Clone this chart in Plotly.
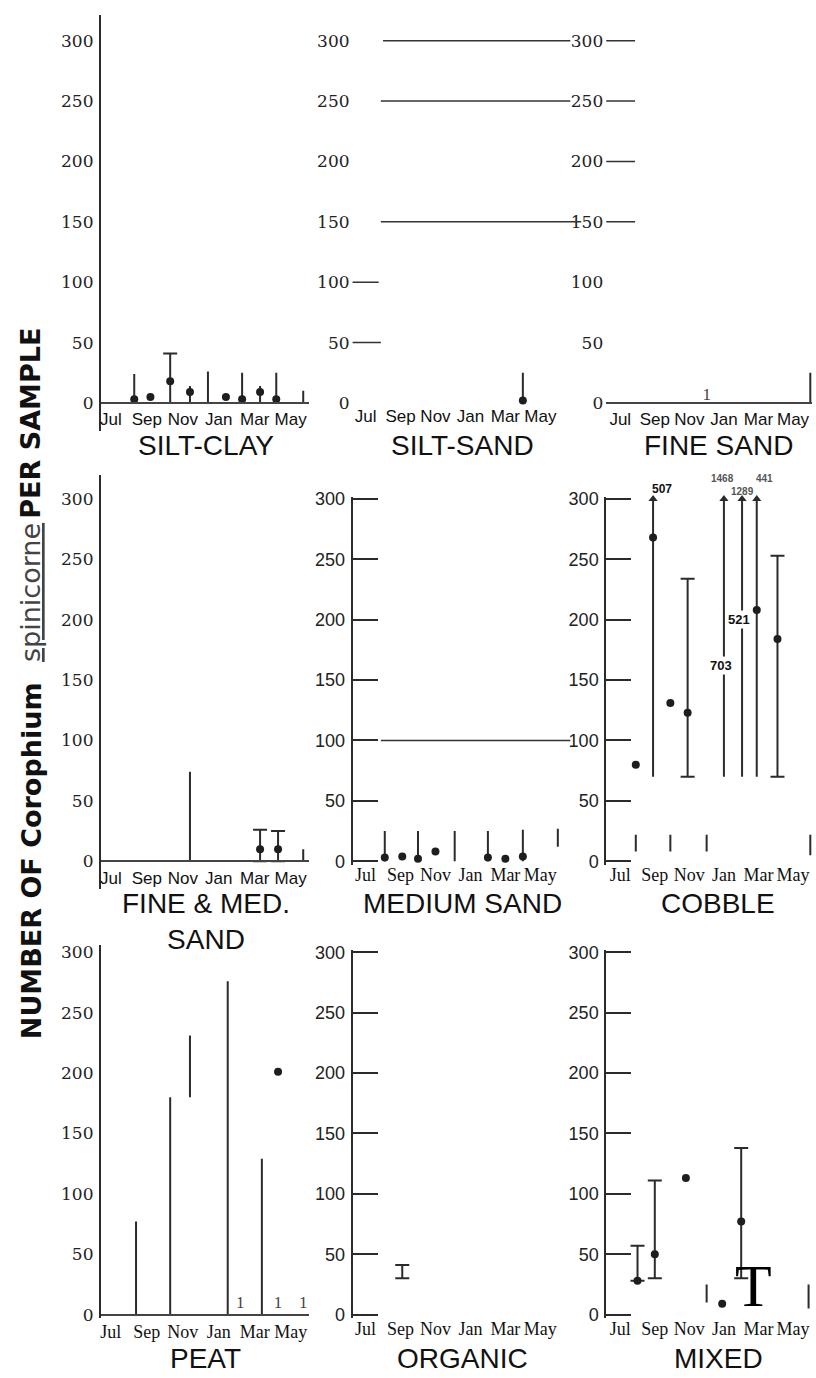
import plotly.graph_objects as go

# ---------------- data ----------------
# month index: 0 = Jul, 1 = Aug, ... 11 = Jun
month_tickvals = [0, 2, 4, 6, 8, 10]
month_ticktext = ["Jul", "Sep", "Nov", "Jan", "Mar", "May"]
count_tickvals = [0, 50, 100, 150, 200, 250, 300]
count_ticktext = ["0", "50", "100", "150", "200", "250", "300"]

panel_titles = ["SILT-CLAY", "SILT-SAND", "FINE SAND",
                "FINE & MED.<br>SAND", "MEDIUM SAND", "COBBLE",
                "PEAT", "ORGANIC", "MIXED"]

# SILT-CLAY
silt_clay_mean_month = [1.3, 2.2, 3.3, 4.4, 6.4, 7.3, 8.3, 9.2]
silt_clay_mean = [3, 5, 18, 9, 5, 3, 9, 3]
silt_clay_range_month = [1.3, 3.3, 4.4, 5.4, 7.3, 8.3, 9.2, 10.7]
silt_clay_range_low = [0, 0, 0, 0, 0, 0, 0, 0]
silt_clay_range_high = [24, 41, 14, 26, 25, 14, 25, 10]
silt_clay_range_capped = [False, True, False, False, False, False, False, False]

# SILT-SAND
silt_sand_mean_month = [9.0]
silt_sand_mean = [2]
silt_sand_range_month = [9.0]
silt_sand_range_low = [0]
silt_sand_range_high = [25]
silt_sand_range_capped = [False]

# FINE SAND
fine_sand_mean_month = []
fine_sand_mean = []
fine_sand_range_month = [11.0]
fine_sand_range_low = [0]
fine_sand_range_high = [25]
fine_sand_range_capped = [False]
fine_sand_small_month = [5.0]
fine_sand_small_value = [6]

# FINE & MED. SAND
fine_med_mean_month = [8.3, 9.3]
fine_med_mean = [10, 10]
fine_med_range_month = [4.4, 8.3, 9.3, 10.7]
fine_med_range_low = [0, 0, 0, 0]
fine_med_range_high = [74, 26, 25, 10]
fine_med_range_capped = [False, True, True, False]

# MEDIUM SAND
medium_mean_month = [1.1, 2.1, 3.0, 4.0, 7.0, 8.0, 9.0]
medium_mean = [3, 4, 2, 8, 3, 2, 4]
medium_range_month = [1.1, 3.0, 5.1, 7.0, 9.0, 11.0]
medium_range_low = [0, 0, 0, 0, 0, 12]
medium_range_high = [25, 25, 25, 25, 26, 27]
medium_range_capped = [False, False, False, False, False, False]

# COBBLE
cobble_mean_month = [0.9, 1.9, 2.9, 3.9, 7.9, 9.1]
cobble_mean = [80, 268, 131, 123, 208, 184]
cobble_range_month = [0.9, 1.9, 2.9, 3.9, 5.0, 6.0, 7.05, 7.9, 9.1, 11.0]
cobble_range_low = [8, 70, 8, 70, 8, 70, 70, 70, 70, 5]
cobble_range_high = [22, 507, 22, 234, 22, 1468, 1289, 441, 253, 22]
cobble_range_capped = [False, False, False, True, False, False, False, False, True, False]
cobble_offscale_mean_month = [6.0, 7.05]
cobble_offscale_mean = [703, 521]

# PEAT
peat_mean_month = [9.3]
peat_mean = [201]
peat_range_month = [1.4, 3.3, 4.4, 6.5, 8.4]
peat_range_low = [0, 0, 180, 0, 0]
peat_range_high = [77, 180, 231, 276, 129]
peat_range_capped = [False, False, False, False, False]
peat_small_month = [7.2, 9.3, 10.7]
peat_small_value = [9, 9, 9]

# ORGANIC
organic_mean_month = []
organic_mean = []
organic_range_month = [2.1]
organic_range_low = [30]
organic_range_high = [41]
organic_range_capped = [True]

# MIXED
mixed_mean_month = [1.0, 2.0, 3.8, 5.9, 7.0]
mixed_mean = [28, 50, 113, 9, 77]
mixed_range_month = [1.0, 2.0, 5.0, 7.0, 10.9]
mixed_range_low = [28, 30, 10, 30, 5]
mixed_range_high = [57, 111, 25, 138, 25]
mixed_range_capped = [True, True, False, True, False]

panels = [
    dict(mx=silt_clay_mean_month, my=silt_clay_mean, rx=silt_clay_range_month,
         rlo=silt_clay_range_low, rhi=silt_clay_range_high, rcap=silt_clay_range_capped),
    dict(mx=silt_sand_mean_month, my=silt_sand_mean, rx=silt_sand_range_month,
         rlo=silt_sand_range_low, rhi=silt_sand_range_high, rcap=silt_sand_range_capped),
    dict(mx=fine_sand_mean_month, my=fine_sand_mean, rx=fine_sand_range_month,
         rlo=fine_sand_range_low, rhi=fine_sand_range_high, rcap=fine_sand_range_capped,
         sx=fine_sand_small_month, sy=fine_sand_small_value),
    dict(mx=fine_med_mean_month, my=fine_med_mean, rx=fine_med_range_month,
         rlo=fine_med_range_low, rhi=fine_med_range_high, rcap=fine_med_range_capped),
    dict(mx=medium_mean_month, my=medium_mean, rx=medium_range_month,
         rlo=medium_range_low, rhi=medium_range_high, rcap=medium_range_capped),
    dict(mx=cobble_mean_month, my=cobble_mean, rx=cobble_range_month,
         rlo=cobble_range_low, rhi=cobble_range_high, rcap=cobble_range_capped),
    dict(mx=peat_mean_month, my=peat_mean, rx=peat_range_month,
         rlo=peat_range_low, rhi=peat_range_high, rcap=peat_range_capped,
         sx=peat_small_month, sy=peat_small_value),
    dict(mx=organic_mean_month, my=organic_mean, rx=organic_range_month,
         rlo=organic_range_low, rhi=organic_range_high, rcap=organic_range_capped),
    dict(mx=mixed_mean_month, my=mixed_mean, rx=mixed_range_month,
         rlo=mixed_range_low, rhi=mixed_range_high, rcap=mixed_range_capped),
]

# ---------------- layout / style ----------------
W, H = 816, 1378
SCALE_TOP = 300           # values above this are drawn as arrows
PX_PER_UNIT = 1.22
ROW_ZERO_PX = [400, 863, 1321]
# column: (axis px, right px, px of month 0, px per month)
COLS = [(100, 308, 110, 18.0), (352, 570, 365, 17.5), (606, 812, 620, 17.3)]

SERIF_Y = dict(family="DejaVu Serif", size=17, color="#222")
SANS_Y = dict(family="Liberation Sans, Arial", size=18, color="#222")
SANS_X = dict(family="Liberation Sans, Arial", size=17, color="#111")
SERIF_X = dict(family="Liberation Serif, Times New Roman", size=18, color="#111")

panel_style = [
    dict(ylo=-23, yhi=321, yline=True, yticks="", base=True, xf=SANS_X, yf=SERIF_Y),
    dict(ylo=-3, yhi=321, yline=False, yticks="", base=False, xf=SANS_X, yf=SERIF_Y),
    dict(ylo=-3, yhi=321, yline=False, yticks="", base=True, xf=SANS_X, yf=SERIF_Y),
    dict(ylo=-23, yhi=320, yline=True, yticks="", base=True, xf=SANS_X, yf=SERIF_Y),
    dict(ylo=-3, yhi=302, yline=True, yticks="inside", base=False, xf=SERIF_X, yf=SANS_Y),
    dict(ylo=-3, yhi=302, yline=True, yticks="inside", base=False, xf=SERIF_X, yf=SANS_Y),
    dict(ylo=-3, yhi=306, yline=True, yticks="", base=True, xf=SERIF_X, yf=SERIF_Y),
    dict(ylo=-3, yhi=302, yline=True, yticks="inside", base=False, xf=SERIF_X, yf=SANS_Y),
    dict(ylo=-3, yhi=302, yline=True, yticks="inside", base=False, xf=SERIF_X, yf=SANS_Y),
]

# stray ruled lines seen on the scanned page: (panel, y value, x0 frac, x1 frac)
page_rules = [
    (1, 300, 0.14, 1.0), (1, 250, 0.13, 1.0), (1, 150, 0.13, 1.05),
    (1, 100, 0.0, 0.12), (1, 50, 0.0, 0.13),
    (2, 300, 0.0, 0.14), (2, 250, 0.0, 0.14), (2, 200, 0.0, 0.14), (2, 150, 0.0, 0.14),
    (4, 100, 0.13, 1.0),
]

title_y_px = [442, 905, 1365]
title_x_px = [205, 462, 718]
tick_standoff_by_row = [1, 1, 1]

LINE = "#2b2b2b"
fig = go.Figure()
layout = dict(width=W, height=H, margin=dict(l=0, r=0, t=0, b=0),
              paper_bgcolor="white", plot_bgcolor="white", showlegend=False)
annotations = []
shapes = []


def value_to_paper_y(row, v):
    return 1 - (ROW_ZERO_PX[row] - v * PX_PER_UNIT) / H


for k, (p, st) in enumerate(zip(panels, panel_style)):
    r, c = divmod(k, 3)
    ax_px, right_px, m0_px, ppm = COLS[c]
    zero_px = ROW_ZERO_PX[r]
    sfx = "" if k == 0 else str(k + 1)
    xa, ya = "x" + sfx, "y" + sfx

    xr = [(ax_px - m0_px) / ppm, (right_px - m0_px) / ppm]
    bottom_px = zero_px - st["ylo"] * PX_PER_UNIT
    top_px = zero_px - st["yhi"] * PX_PER_UNIT
    layout["xaxis" + sfx] = dict(
        domain=[ax_px / W, right_px / W], range=xr, anchor="free",
        position=1 - zero_px / H, showgrid=False, zeroline=False,
        showline=st["base"], linecolor="#444", linewidth=2,
        tickvals=month_tickvals, ticktext=month_ticktext, ticks="", tickangle=0,
        tickfont=st["xf"], ticklabelstandoff=tick_standoff_by_row[r], fixedrange=True)
    layout["yaxis" + sfx] = dict(
        domain=[1 - bottom_px / H, 1 - top_px / H], range=[st["ylo"], st["yhi"]],
        anchor=xa, showgrid=False, zeroline=False,
        showline=st["yline"], linecolor=LINE, linewidth=2,
        tickvals=count_tickvals, ticktext=count_ticktext,
        ticks=st["yticks"], ticklen=25, tickwidth=2, tickcolor=LINE,
        tickfont=st["yf"], ticklabelstandoff=2, fixedrange=True)

    # vertical ranges (error bars from low to high)
    for capped in (False, True):
        idx = [i for i, cp in enumerate(p["rcap"]) if cp == capped]
        if not idx:
            continue
        xs = [p["rx"][i] for i in idx]
        lo = [p["rlo"][i] for i in idx]
        hi = [min(p["rhi"][i], SCALE_TOP) for i in idx]
        fig.add_trace(go.Scatter(
            x=xs, y=lo, mode="markers", marker=dict(size=1, color="rgba(0,0,0,0)"),
            xaxis=xa, yaxis=ya, hoverinfo="skip", cliponaxis=False,
            error_y=dict(type="data", symmetric=False,
                         array=[h - l for h, l in zip(hi, lo)], arrayminus=[0] * len(xs),
                         width=7 if capped else 0, thickness=2, color=LINE)))
    # arrows for off-scale highs
    off = [i for i, h in enumerate(p["rhi"]) if h > SCALE_TOP]
    if off:
        fig.add_trace(go.Scatter(
            x=[p["rx"][i] for i in off], y=[SCALE_TOP] * len(off), mode="markers",
            marker=dict(symbol="triangle-up", size=8, color=LINE),
            xaxis=xa, yaxis=ya, cliponaxis=False, hoverinfo="skip"))
    # means
    if p["mx"]:
        fig.add_trace(go.Scatter(
            x=p["mx"], y=p["my"], mode="markers",
            marker=dict(size=8, color="#1e1e1e"),
            xaxis=xa, yaxis=ya, cliponaxis=False))
    # tiny marks
    if p.get("sx"):
        fig.add_trace(go.Scatter(
            x=p["sx"], y=p["sy"], mode="text", text=["1"] * len(p["sx"]),
            textfont=dict(family="Liberation Serif", size=17, color="#444"),
            xaxis=xa, yaxis=ya, cliponaxis=False, hoverinfo="skip"))

    # panel title
    annotations.append(dict(
        text=panel_titles[k], x=title_x_px[c] / W, y=1 - (title_y_px[r] - 17) / H,
        xref="paper", yref="paper", xanchor="center", yanchor="top", showarrow=False,
        font=dict(family="Liberation Sans, Arial", size=28, color="#111")))

# Cobble value labels for off-scale highs and means (row 1 of the grid, col 2)
cobble_row = 1
cobble_high_label_dy = [8, 17, 6, 17]
cobble_high_label_dx = [0.5, -0.1, 0.05, 0.45]
off = [i for i, h in enumerate(cobble_range_high) if h > SCALE_TOP]
for j, i in enumerate(off):
    annotations.append(dict(
        text="<b>%d</b>" % cobble_range_high[i],
        x=cobble_range_month[i] + cobble_high_label_dx[j], xref="x6",
        y=value_to_paper_y(cobble_row, SCALE_TOP + cobble_high_label_dy[j]), yref="paper",
        showarrow=False,
        font=dict(family="Liberation Sans, Arial", size=12 if j == 0 else 10,
                  color="#111" if j == 0 else "#555")))
cobble_mean_label_y = [162, 200]
for xm, v, ly in zip(cobble_offscale_mean_month, cobble_offscale_mean, cobble_mean_label_y):
    annotations.append(dict(
        text="<b>%d</b>" % v, x=xm - 0.15, y=ly, xref="x6", yref="y6", showarrow=False,
        bgcolor="white", font=dict(family="Liberation Sans, Arial", size=13, color="#111")))

# large stray letter on the MIXED panel
annotations.append(dict(text="T", x=7.7, y=24, xref="x9", yref="y9", showarrow=False,
                        font=dict(family="Liberation Serif", size=60, color="#000")))

# y-axis title (three pieces)
annotations += [
    dict(text="<b>NUMBER OF Corophium</b>", x=30 / W, y=1 - 862 / H, textangle=-90),
    dict(text="<u>spinicorne</u>", x=30 / W, y=1 - 591 / H, textangle=-90,
         font=dict(family="DejaVu Sans", size=27, color="#444")),
    dict(text="<b>PER SAMPLE</b>", x=30 / W, y=1 - 420 / H, textangle=-90),
]
for a in annotations[-3:]:
    a.update(xref="paper", yref="paper", showarrow=False, xanchor="center", yanchor="middle")
    a.setdefault("font", dict(family="DejaVu Sans", size=27, color="#111"))

for k, yv, f0, f1 in page_rules:
    sfx = "" if k == 0 else str(k + 1)
    shapes.append(dict(type="line", xref="x%s domain" % sfx, yref="y" + sfx,
                       x0=f0, x1=f1, y0=yv, y1=yv, line=dict(color="#333", width=1.5)))

layout["annotations"] = annotations
layout["shapes"] = shapes
fig.update_layout(**layout)
fig.write_html("out.html", config={"displayModeBar": False},
               post_script="document.body.style.margin='0px';")
